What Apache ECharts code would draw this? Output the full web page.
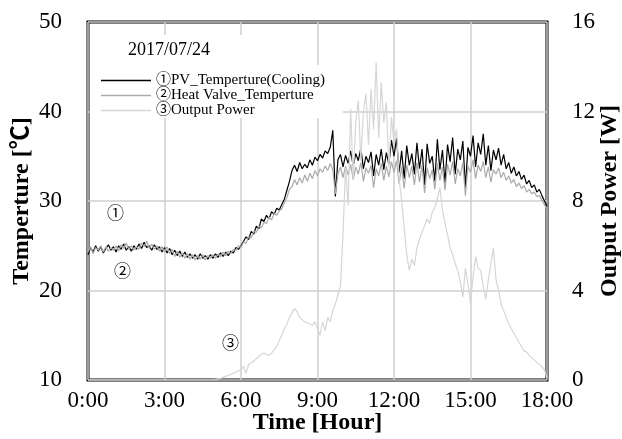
<!DOCTYPE html>
<html>
<head>
<meta charset="utf-8">
<script src="https://cdn.jsdelivr.net/npm/echarts@6/dist/echarts.min.js"></script>
<style>
  html, body { margin: 0; padding: 0; background: #fff; }
  #chart { width: 622px; height: 439px; }
</style>
</head>
<body>
<div id="chart"></div>
<script>
// Logged every 6 minutes (0.1 h), from 0:00 to 18:00, one row per hour.
const STEP_HOURS = 0.1;

// ① PV module temperature with cooling [°C]
const pvTemp = [
  24.0, 24.8, 24.3, 25.0, 24.4, 24.9, 24.2, 24.7, 25.1, 24.5,
  24.9, 24.3, 25.0, 24.6, 25.2, 24.5, 24.9, 24.4, 25.0, 24.6,
  25.2, 24.7, 25.4, 24.8, 25.0, 24.5, 25.1, 24.6, 24.9, 24.3,
  24.8, 24.2, 24.7, 24.0, 24.5, 23.9, 24.4, 23.8, 24.3, 23.7,
  24.1, 23.6, 24.0, 23.5, 24.1, 23.6, 23.9, 23.5, 24.0, 23.6,
  24.1, 23.7, 24.2, 23.8, 24.3, 23.9, 24.4, 24.2, 24.8, 24.6,
  25.0, 25.5, 26.0, 25.7, 26.6, 26.3, 27.2, 26.9, 28.0, 27.7,
  28.4, 28.0, 28.8, 28.5, 29.2, 29.0, 29.6, 30.2, 31.2, 32.2,
  33.4, 34.0, 33.3, 34.3, 33.6, 34.1, 33.7, 34.6, 34.0, 34.9,
  34.5, 35.2, 34.8, 35.6, 35.3, 36.0, 37.9, 30.5, 34.6, 35.2,
  33.8, 35.1, 34.2, 35.6, 33.9, 35.3, 34.5, 35.9, 33.6, 35.0,
  34.3, 35.5, 32.8, 35.2, 34.0, 35.8, 33.5, 35.4, 34.1, 36.8,
  35.0, 37.0, 33.2, 35.6, 32.5, 36.2, 34.0, 35.3, 33.0, 36.5,
  33.6, 35.8, 31.8, 36.4, 34.2, 35.0, 32.2, 36.9, 33.5, 35.7,
  32.0, 36.3, 34.4, 37.1, 33.0, 35.8, 34.6, 36.7, 31.5, 36.0,
  35.0, 37.3, 33.8, 36.5, 35.2, 37.5, 34.0, 36.2, 33.4, 35.7,
  34.6, 35.9, 34.0, 35.2, 33.6, 34.3, 33.1, 33.8, 32.8, 33.3,
  32.4, 32.9, 31.9, 32.3, 31.5, 31.8, 31.0, 31.3, 30.6, 30.0,
  29.4
];

// ② Heat valve temperature [°C]
const valveTemp = [
  24.3, 24.9, 24.1, 24.8, 24.5, 25.0, 24.3, 24.9, 24.4, 24.8,
  24.5, 25.0, 24.4, 25.1, 24.7, 25.3, 24.6, 25.0, 24.5, 24.9,
  24.6, 25.3, 24.9, 25.5, 24.7, 25.2, 24.6, 25.0, 24.4, 24.9,
  24.3, 24.9, 24.1, 24.6, 23.8, 24.4, 23.7, 24.2, 23.6, 24.1,
  23.5, 24.0, 23.4, 23.9, 23.5, 24.0, 23.4, 23.9, 23.6, 24.0,
  23.6, 24.1, 23.8, 24.3, 23.9, 24.4, 24.1, 24.6, 24.5, 25.0,
  24.8, 25.4, 25.3, 26.0, 25.9, 26.6, 26.5, 27.2, 27.0, 27.6,
  27.5, 28.2, 27.9, 28.6, 28.4, 28.9, 29.1, 29.8, 30.4, 31.3,
  31.6, 32.4, 31.8, 32.6, 32.0, 32.9, 32.2, 33.1, 32.5, 33.4,
  32.8, 33.6, 33.2, 33.9, 33.4, 34.2, 33.5, 30.8, 33.0, 33.8,
  32.6, 33.9, 32.9, 34.1, 32.4, 33.8, 33.0, 34.3, 32.2, 33.7,
  33.1, 34.0, 31.5, 33.6, 32.8, 34.2, 32.3, 33.9, 32.7, 34.4,
  33.2, 34.5, 31.9, 33.8, 31.4, 34.0, 32.6, 33.9, 31.8, 34.3,
  32.1, 34.0, 30.9, 33.7, 32.5, 33.5, 31.3, 34.2, 32.3, 33.8,
  31.2, 34.1, 32.9, 34.4, 31.9, 33.6, 32.8, 34.3, 30.6, 33.9,
  33.2, 34.6, 32.5, 34.0, 33.3, 34.4, 32.6, 33.8, 32.1, 33.5,
  33.0, 33.7, 32.6, 33.2, 32.3, 32.8, 32.0, 32.4, 31.6, 32.0,
  31.4, 31.7, 31.0, 31.3, 30.8, 31.0, 30.5, 30.6, 30.1, 29.6,
  29.1
];

// ③ Output power [W]
const outputPower = [
  0, 0, 0, 0, 0, 0, 0, 0, 0, 0,
  0, 0, 0, 0, 0, 0, 0, 0, 0, 0,
  0, 0, 0, 0, 0, 0, 0, 0, 0, 0,
  0, 0, 0, 0, 0, 0, 0, 0, 0, 0,
  0, 0, 0, 0, 0, 0, 0, 0, 0, 0,
  0.02, 0.05, 0.08, 0.12, 0.16, 0.2, 0.25, 0.3, 0.36, 0.42,
  0.45, 0.6, 0.3, 0.7, 0.75, 0.85, 0.95, 1.05, 1.15, 1.2,
  1.15, 1.1, 1.2, 1.35, 1.5, 1.75, 2.0, 2.3, 2.5, 2.8,
  3.0, 3.2, 3.05, 2.8, 2.7, 2.6, 2.55, 2.5, 2.45, 2.6,
  2.3, 2.0, 2.6, 2.2, 2.8, 2.6, 3.1, 3.4, 3.8, 4.2,
  6.5, 9.5, 7.8, 12.1, 9.0, 11.5, 12.5, 9.8, 12.0, 12.8,
  10.5, 13.0, 11.2, 14.2, 10.8, 13.3, 11.5, 12.4, 9.5, 11.75,
  10.6, 11.2, 9.0, 8.0, 6.8, 5.6, 4.9, 5.4, 5.1, 5.9,
  6.3, 6.6, 6.9, 7.2, 7.0, 7.5, 7.7, 8.1, 8.6, 7.6,
  7.0, 6.5, 5.9, 5.6, 5.2, 4.9, 4.4, 3.7, 5.0, 4.3,
  3.4, 4.6, 5.5, 5.0, 4.9, 4.2, 3.6, 4.5, 5.2, 5.9,
  4.5, 4.0, 3.4, 3.1, 2.8, 2.5, 2.3, 2.1, 1.9, 1.7,
  1.5, 1.3, 1.25, 1.1, 1.0, 0.9, 0.8, 0.7, 0.6, 0.45,
  0.1
];

const seriesNames = [
  '①PV_Temperture(Cooling)',
  '②Heat Valve_Temperture',
  '③Output Power'
];
const dateLabel = '2017/07/24';
const timeTicks = { min: 0, max: 18, interval: 3 };
const tempTicks = { min: 10, max: 50, interval: 10 };
const powerTicks = { min: 0, max: 16, interval: 4 };

const FONT = '"Liberation Serif", "Times New Roman", "Noto Sans CJK JP", serif';
const TICK_SIZE = 23;
const NAME_SIZE = 24;

const toPairs = (values) => values.map((v, i) => [+(i * STEP_HOURS).toFixed(1), v]);

const chart = echarts.init(document.getElementById('chart'), null, { renderer: 'canvas' });

chart.setOption({
  animation: false,
  backgroundColor: '#fff',
  textStyle: { fontFamily: FONT, color: '#000' },
  grid: {
    left: 88, right: 75, top: 22, bottom: 59,
    outerBoundsMode: 'none',
    containLabel: false,
    show: true, borderColor: '#000', borderWidth: 3, backgroundColor: 'transparent'
  },
  legend: {
    orient: 'vertical',
    left: 101, top: 73,
    padding: 0,
    icon: 'path://M0,0H50V1.5H0Z',
    itemWidth: 50, itemHeight: 14, itemGap: 0,
    textStyle: { fontFamily: FONT, fontSize: 15, color: '#000', lineHeight: 15 },
    data: seriesNames
  },
  xAxis: {
    type: 'value',
    min: timeTicks.min, max: timeTicks.max, interval: timeTicks.interval,
    name: 'Time [Hour]',
    nameLocation: 'middle', nameGap: 31, nameMoveOverlap: false,
    nameTextStyle: { fontFamily: FONT, fontSize: NAME_SIZE, fontWeight: 'bold', color: '#000' },
    axisLine: { show: false },
    axisTick: { show: false },
    axisLabel: {
      fontFamily: FONT, fontSize: TICK_SIZE, color: '#000', margin: 9,
      formatter: (v) => v + ':00'
    },
    splitLine: { show: true, lineStyle: { color: '#cfcfcf', width: 1.5 } }
  },
  yAxis: [
    {
      type: 'value',
      min: tempTicks.min, max: tempTicks.max, interval: tempTicks.interval,
      name: 'Temperture [℃]',
      nameLocation: 'middle', nameGap: 54, nameRotate: 90, nameMoveOverlap: false,
      nameTextStyle: { fontFamily: FONT, fontSize: NAME_SIZE, fontWeight: 'bold', color: '#000' },
      axisLine: { show: false },
      axisTick: { show: false },
      axisLabel: { fontFamily: FONT, fontSize: TICK_SIZE, color: '#000', margin: 26 },
      splitLine: { show: true, lineStyle: { color: '#cfcfcf', width: 1.5 } }
    },
    {
      type: 'value',
      position: 'right',
      min: powerTicks.min, max: powerTicks.max, interval: powerTicks.interval,
      name: 'Output Power [W]',
      nameLocation: 'middle', nameGap: 51, nameRotate: 90, nameMoveOverlap: false,
      nameTextStyle: { fontFamily: FONT, fontSize: NAME_SIZE, fontWeight: 'bold', color: '#000' },
      axisLine: { show: false },
      axisTick: { show: false },
      axisLabel: { fontFamily: FONT, fontSize: TICK_SIZE, color: '#000', margin: 25 },
      splitLine: { show: false }
    }
  ],
  graphic: [
    // white panels behind the date and the legend
    { type: 'rect', left: 90, top: 35, z: 1, shape: { width: 226, height: 32 }, style: { fill: '#fff' }, silent: true },
    { type: 'rect', left: 90, top: 65, z: 1, shape: { width: 253, height: 53 }, style: { fill: '#fff' }, silent: true },
    { type: 'text', left: 128, top: 41, z: 5, style: { text: dateLabel, font: '18px ' + FONT, fill: '#000' } },
    // curve markers
    { type: 'text', left: 107, top: 206, z: 5, style: { text: '①', font: '17px ' + FONT, fill: '#000' } },
    { type: 'text', left: 114, top: 264, z: 5, style: { text: '②', font: '17px ' + FONT, fill: '#000' } },
    { type: 'text', left: 222, top: 336, z: 5, style: { text: '③', font: '17px ' + FONT, fill: '#000' } }
  ],
  series: [
    {
      name: seriesNames[0], type: 'line', yAxisIndex: 0,
      data: toPairs(pvTemp), symbol: 'none', z: 3,
      lineStyle: { color: '#000', width: 1.2 }, itemStyle: { color: '#000' }
    },
    {
      name: seriesNames[1], type: 'line', yAxisIndex: 0,
      data: toPairs(valveTemp), symbol: 'none', z: 4,
      lineStyle: { color: '#aaaaaa', width: 1.2 }, itemStyle: { color: '#aaaaaa' }
    },
    {
      name: seriesNames[2], type: 'line', yAxisIndex: 1,
      data: toPairs(outputPower), symbol: 'none', z: 5,
      lineStyle: { color: '#d6d6d6', width: 1.2 }, itemStyle: { color: '#d6d6d6' }
    }
  ]
});
</script>
</body>
</html>
